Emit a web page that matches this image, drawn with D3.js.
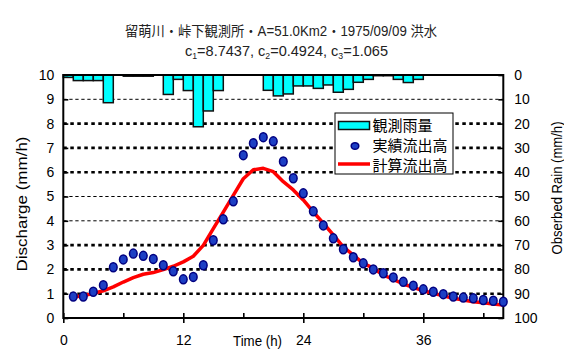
<!DOCTYPE html>
<html>
<head>
<meta charset="utf-8">
<script src="https://cdn.jsdelivr.net/npm/d3@7"></script>
<style>
  body { margin: 0; background: #fff; }
  svg { display: block; }
  text { font-family: "Liberation Sans", Arial, "Noto Sans CJK JP", sans-serif; }
</style>
</head>
<body>
<svg id="chart" width="564" height="349"></svg>
<script>
// hourly observed rain (mm/h), bar i covers hour i..i+1
var rainValues = [1, 2.3, 2.3, 2.3, 11.4, 0, 0.5, 0.5, 0.5, 0, 8, 1.8, 6.4, 21.3, 14.8, 6.4,
    0, 0, 0, 0, 6.3, 8.6, 7.8, 4.5, 4.5, 5.5, 4.1, 7.1, 5.9, 3, 1.8, 0.3, 0.3, 1.8, 3.1, 1.8];

// discharge time steps (h)
var flowHours = d3.range(1, 45);

// 実績流出高 (observed, mm/h)
var observedFlow = [0.88, 0.88, 1.08, 1.35, 2.09, 2.41, 2.65, 2.56, 2.43, 2.17, 1.92, 1.59, 1.69, 2.17,
    3.2, 4.06, 4.8, 6.7, 7.19, 7.44, 7.27, 6.44, 5.75, 5.13, 4.39, 3.81, 3.28, 2.83, 2.5, 2.25,
    2.0, 1.84, 1.67, 1.49, 1.33, 1.18, 1.08, 0.98, 0.88, 0.84, 0.81, 0.74, 0.71, 0.67];

// 計算流出高 (computed, mm/h)
var computedFlow = [0.86, 0.92, 1.01, 1.12, 1.28, 1.48, 1.66, 1.8, 1.87, 1.99, 2.13, 2.31, 2.54, 2.99,
    3.68, 4.36, 5.05, 5.73, 6.1, 6.16, 6.02, 5.61, 5.27, 4.86, 4.37, 3.9, 3.42, 2.93, 2.59, 2.25,
    2.05, 1.77, 1.59, 1.4, 1.26, 1.12, 1.02, 0.91, 0.81, 0.74, 0.67, 0.63, 0.58, 0.53];

var timeTicks = [0, 12, 24, 36];
var timeMinorTicks = [6, 18, 30, 42];
var flowTicks = [0, 1, 2, 3, 4, 5, 6, 7, 8, 9, 10];
var rainTicks = [0, 10, 20, 30, 40, 50, 60, 70, 80, 90, 100];
var legendLabels = ["観測雨量", "実績流出高", "計算流出高"];

var plotL = 63.3, plotR = 503.3, plotT = 75, plotB = 318;

var svg = d3.select("#chart");

var x = d3.scaleLinear().domain([0, 44]).range([plotL, plotR]);
var yQ = d3.scaleLinear().domain([0, 10]).range([plotB, plotT]);
var yR = d3.scaleLinear().domain([0, 100]).range([plotT, plotB]);

// title
svg.append("text")
    .attr("x", 281).attr("y", 31.5).attr("dy", "0.35em")
    .attr("text-anchor", "middle")
    .attr("font-size", 14).attr("fill", "#222")
    .attr("textLength", 312).attr("lengthAdjust", "spacingAndGlyphs")
    .text("留萌川・峠下観測所・A=51.0Km2・1975/09/09 洪水");

var sub = svg.append("text")
    .attr("x", 286.5).attr("y", 51).attr("dy", "0.35em")
    .attr("text-anchor", "middle")
    .attr("font-size", 15).attr("fill", "#222")
    .attr("textLength", 203).attr("lengthAdjust", "spacingAndGlyphs");
sub.append("tspan").text("c");
sub.append("tspan").attr("font-size", 9).attr("dy", 3).text("1");
sub.append("tspan").attr("dy", -3).text("=8.7437, c");
sub.append("tspan").attr("font-size", 9).attr("dy", 3).text("2");
sub.append("tspan").attr("dy", -3).text("=0.4924, c");
sub.append("tspan").attr("font-size", 9).attr("dy", 3).text("3");
sub.append("tspan").attr("dy", -3).text("=1.065");

// grid lines (the original mixes two renderings)
var thinLines = [9, 5, 4];
svg.append("g").selectAll("line")
    .data(flowTicks.filter(d => d > 0 && d < 10))
    .join("line")
    .attr("x1", plotL).attr("x2", plotR)
    .attr("y1", d => yQ(d)).attr("y2", d => yQ(d))
    .attr("stroke", "#000")
    .attr("stroke-width", d => thinLines.includes(d) ? 1 : 2.6)
    .attr("stroke-dasharray", d => thinLines.includes(d) ? "3.3,2.7" : "3.5,3.5");

// rain bars hanging from the top
svg.append("g").selectAll("rect")
    .data(rainValues.map((v, i) => ({ h: i, v: v })).filter(d => d.v > 0))
    .join("rect")
    .attr("x", d => x(d.h))
    .attr("y", plotT)
    .attr("width", d => x(d.h + 1) - x(d.h))
    .attr("height", d => yR(d.v) - plotT)
    .attr("fill", "#00ffff")
    .attr("stroke", "#111")
    .attr("stroke-width", 1.5);

// axes
var axL = svg.append("g").attr("transform", "translate(" + plotL + ",0)")
    .call(d3.axisLeft(yQ).tickValues(flowTicks).tickSizeInner(-5).tickSizeOuter(0).tickPadding(9));
var axR = svg.append("g").attr("transform", "translate(" + plotR + ",0)")
    .call(d3.axisRight(yR).tickValues(rainTicks).tickSizeInner(-5).tickSizeOuter(0).tickPadding(11));
var axBminor = svg.append("g").attr("transform", "translate(0," + plotB + ")")
    .call(d3.axisBottom(x).tickValues(timeMinorTicks.concat(timeTicks)).tickSizeInner(-5).tickSizeOuter(0).tickFormat(""));
var axB = svg.append("g").attr("transform", "translate(0," + plotB + ")")
    .call(d3.axisBottom(x).tickValues(timeTicks).tickSizeInner(5).tickSizeOuter(0).tickPadding(12));

[axL, axR, axBminor, axB].forEach(function(g) {
    g.select(".domain").remove();
    g.selectAll(".tick line").attr("stroke", "#000").attr("stroke-width", 1.6);
    g.selectAll(".tick text").attr("font-size", 14).attr("fill", "#000")
        .attr("font-family", "\"Liberation Sans\", Arial, sans-serif");
});

// plot frame
svg.append("rect")
    .attr("x", plotL).attr("y", plotT)
    .attr("width", plotR - plotL).attr("height", plotB - plotT)
    .attr("fill", "none").attr("stroke", "#000").attr("stroke-width", 2);

// computed discharge
var line = d3.line()
    .x((d, i) => x(flowHours[i]))
    .y(d => yQ(d));

svg.append("path")
    .datum(computedFlow)
    .attr("d", line)
    .attr("fill", "none")
    .attr("stroke", "#ff0000")
    .attr("stroke-width", 3.5)
    .attr("stroke-linejoin", "round");

// observed discharge
svg.append("g").selectAll("ellipse")
    .data(observedFlow)
    .join("ellipse")
    .attr("cx", (d, i) => x(flowHours[i]))
    .attr("cy", d => yQ(d))
    .attr("rx", 3.8).attr("ry", 4.5)
    .attr("fill", "#1d3fc4")
    .attr("stroke", "#000080")
    .attr("stroke-width", 1.5);

// axis titles
svg.append("text")
    .attr("transform", "translate(22,204) rotate(-90)")
    .attr("dy", "0.35em")
    .attr("text-anchor", "middle")
    .attr("font-size", 14)
    .attr("textLength", 135).attr("lengthAdjust", "spacingAndGlyphs")
    .text("Discharge (mm/h)");

svg.append("text")
    .attr("transform", "translate(557,188) rotate(-90)")
    .attr("dy", "0.35em")
    .attr("text-anchor", "middle")
    .attr("font-size", 14)
    .attr("textLength", 133).attr("lengthAdjust", "spacingAndGlyphs")
    .text("Obserbed Rain (mm/h)");

svg.append("text")
    .attr("x", 257.5).attr("y", 341).attr("dy", "0.35em")
    .attr("text-anchor", "middle")
    .attr("font-size", 14)
    .attr("textLength", 49).attr("lengthAdjust", "spacingAndGlyphs")
    .text("Time (h)");

// legend
var lg = svg.append("g");
lg.append("rect")
    .attr("x", 335).attr("y", 113).attr("width", 118).attr("height", 61)
    .attr("fill", "#fff").attr("stroke", "#000").attr("stroke-width", 1);

var rowY = [126, 146, 166];
lg.append("rect")
    .attr("x", 338.5).attr("y", rowY[0] - 4.5).attr("width", 31).attr("height", 8)
    .attr("fill", "#00ffff").attr("stroke", "#111").attr("stroke-width", 1.5);
lg.append("ellipse")
    .attr("cx", 355).attr("cy", rowY[1])
    .attr("rx", 3.8).attr("ry", 3.3)
    .attr("fill", "#1d3fc4").attr("stroke", "#000080").attr("stroke-width", 1.5);
lg.append("line")
    .attr("x1", 338).attr("x2", 370)
    .attr("y1", rowY[2] - 2).attr("y2", rowY[2] - 2)
    .attr("stroke", "#ff0000").attr("stroke-width", 3.5);

lg.selectAll("text.lab")
    .data(legendLabels)
    .join("text")
    .attr("class", "lab")
    .attr("x", 372.5)
    .attr("y", (d, i) => rowY[i])
    .attr("dy", "0.35em")
    .attr("font-size", 15)
    .attr("font-family", "\"Noto Sans CJK JP\", sans-serif")
    .text(d => d);
</script>
</body>
</html>
